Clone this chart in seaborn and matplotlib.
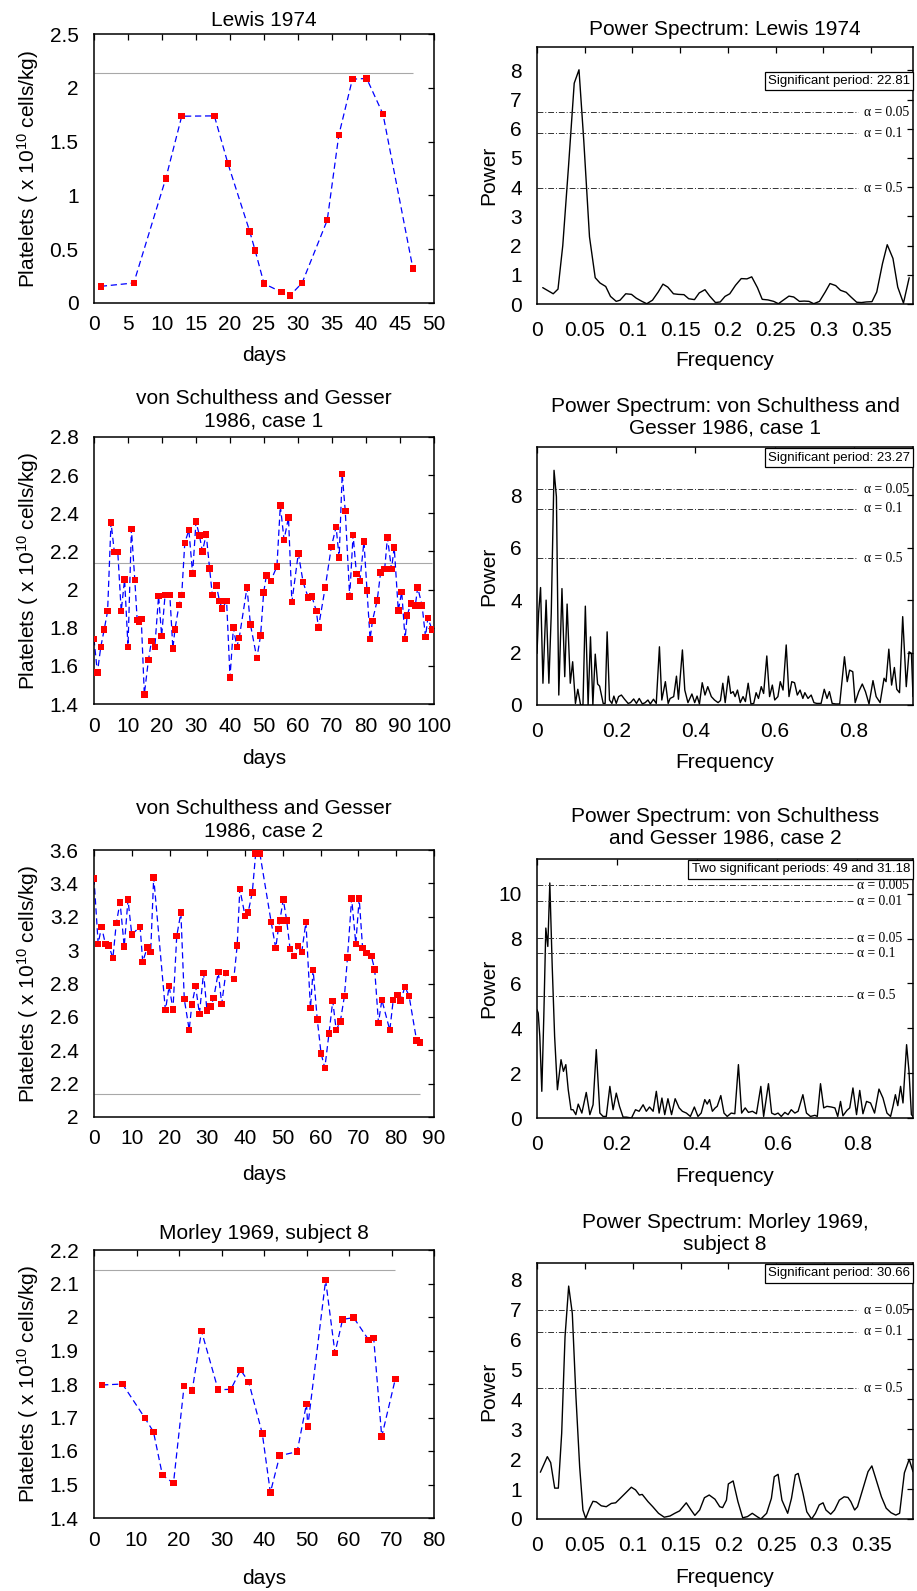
import matplotlib
matplotlib.use('Agg')
import matplotlib.pyplot as plt
import matplotlib.transforms as mtransforms
from matplotlib.ticker import FormatStrFormatter, MultipleLocator
import seaborn as sns

# ---------------- data ----------------
normal_level = 2.14  # x 10^10 cells/kg

# Lewis 1974
lewis_day = [1.0, 5.85, 10.56, 12.9, 17.7, 19.7, 22.9, 23.7, 25.0, 27.6, 28.8, 30.6,
             34.3, 36.0, 38.0, 40.1, 42.5, 46.9]
lewis_plt = [0.155, 0.186, 1.158, 1.736, 1.739, 1.295, 0.665, 0.488, 0.18, 0.10, 0.068, 0.186,
             0.77, 1.56, 2.08, 2.087, 1.755, 0.32]
lewis_freq = [0.006, 0.017, 0.022, 0.027, 0.033, 0.039, 0.044, 0.049, 0.055, 0.061,
              0.066, 0.072, 0.077, 0.083, 0.087, 0.093, 0.099, 0.104, 0.11, 0.115,
              0.121, 0.127, 0.132, 0.137, 0.143, 0.148, 0.154, 0.159, 0.165, 0.17,
              0.176, 0.181, 0.187, 0.192, 0.197, 0.202, 0.208, 0.214, 0.22, 0.225,
              0.231, 0.236, 0.242, 0.248, 0.253, 0.258, 0.264, 0.269, 0.275, 0.28,
              0.285, 0.29, 0.296, 0.302, 0.307, 0.313, 0.318, 0.324, 0.329, 0.335,
              0.34, 0.345, 0.351, 0.356, 0.362, 0.367, 0.373, 0.378, 0.384, 0.39]
lewis_pow = [0.56, 0.35, 0.51, 2.0, 4.7, 7.56, 8.02, 5.6, 2.3, 0.9,
             0.72, 0.6, 0.26, 0.09, 0.13, 0.35, 0.33, 0.2, 0.09, 0.01,
             0.13, 0.41, 0.68, 0.58, 0.35, 0.33, 0.32, 0.18, 0.15, 0.38,
             0.49, 0.27, 0.05, 0.07, 0.26, 0.35, 0.64, 0.87, 0.86, 0.93,
             0.56, 0.16, 0.14, 0.09, 0.01, 0.13, 0.27, 0.24, 0.09, 0.1,
             0.09, 0.01, 0.09, 0.41, 0.7, 0.63, 0.47, 0.40, 0.24, 0.06,
             0.05, 0.07, 0.08, 0.41, 1.38, 2.03, 1.56, 0.58, 0.03, 0.9]
lewis_alpha = [6.56, 5.84, 3.96]
lewis_alpha_lab = ['α = 0.05', 'α = 0.1', 'α = 0.5']
lewis_note = 'Significant period: 22.81'

# von Schulthess and Gesser 1986, case 1
vsg1_day = [0, 1, 2, 3, 4, 5, 6, 7, 8, 9, 10, 11, 12, 12.7, 13.2, 13.9, 14.8, 16, 16.9, 17.9,
            19, 19.9, 20.9, 22.3, 23.2, 23.8, 25, 25.8, 26.7, 27.9, 29, 30, 31, 31.9, 33, 34,
            34.8, 36, 36.9, 37.7, 39, 40, 41, 42, 42.7, 45, 46, 47.9, 49, 49.9, 50.7, 52,
            53.8, 54.8, 55.9, 57.2, 58.2, 60.1, 61.5, 63, 64.1, 65.4, 66, 68, 69.8, 71.2,
            72.1, 73, 73.9, 75.2, 76.2, 77.2, 78.2, 79.4, 80.3, 81.2, 81.9, 83.3, 84.3,
            85.5, 86.3, 87.5, 88.3, 89.5, 90.5, 91.5, 92.1, 93.2, 94.5, 95.2, 96.5, 97.5,
            98.2, 99.4]
vsg1_plt = [1.74, 1.565, 1.70, 1.79, 1.887, 2.352, 2.196, 2.196, 1.887, 2.053,
            1.70, 2.317, 2.051, 1.84, 1.83, 1.846, 1.45, 1.63, 1.73, 1.70,
            1.967, 1.757, 1.972, 1.972, 1.69, 1.79, 1.918, 1.972, 2.245, 2.312,
            2.084, 2.356, 2.284, 2.2, 2.29, 2.11, 1.972, 2.021, 1.94, 1.9,
            1.94, 1.54, 1.8, 1.70, 1.745, 2.011, 1.818, 1.64, 1.76, 1.985,
            2.074, 2.046, 2.121, 2.44, 2.261, 2.378, 1.935, 2.19, 2.039, 1.958,
            1.963, 1.887, 1.80, 2.011, 2.223, 2.329, 2.168, 2.606, 2.412, 1.963,
            2.287, 2.081, 2.046, 2.251, 1.995, 1.74, 1.836, 1.944, 2.09, 2.109,
            2.273, 2.107, 2.221, 1.89, 1.988, 1.74, 1.864, 1.928, 1.916, 2.011,
            1.916, 1.752, 1.852, 1.79]
vsg1_freq = [0, 0.004, 0.009, 0.015, 0.023, 0.03, 0.036, 0.043, 0.049, 0.055,
             0.063, 0.07, 0.076, 0.084, 0.09, 0.097, 0.103, 0.11, 0.116, 0.122,
             0.129, 0.135, 0.141, 0.147, 0.153, 0.158, 0.167, 0.172, 0.177, 0.183,
             0.189, 0.194, 0.2, 0.206, 0.213, 0.221, 0.23, 0.236, 0.244, 0.251,
             0.258, 0.266, 0.273, 0.28, 0.286, 0.294, 0.301, 0.309, 0.315, 0.324,
             0.331, 0.336, 0.345, 0.352, 0.357, 0.367, 0.373, 0.381, 0.391, 0.398,
             0.404, 0.41, 0.417, 0.424, 0.431, 0.44, 0.448, 0.457, 0.463, 0.469,
             0.475, 0.483, 0.489, 0.495, 0.5, 0.506, 0.513, 0.52, 0.526, 0.533,
             0.54, 0.547, 0.553, 0.559, 0.566, 0.572, 0.58, 0.587, 0.594, 0.6,
             0.608, 0.614, 0.621, 0.629, 0.636, 0.643, 0.65, 0.657, 0.664, 0.671,
             0.676, 0.684, 0.692, 0.699, 0.706, 0.717, 0.725, 0.732, 0.738, 0.745,
             0.754, 0.764, 0.776, 0.783, 0.789, 0.797, 0.803, 0.812, 0.821, 0.829,
             0.838, 0.848, 0.856, 0.866, 0.876, 0.881, 0.888, 0.895, 0.902, 0.908,
             0.915, 0.923, 0.932, 0.939, 0.945, 0.949]
vsg1_pow = [1.97, 3.5, 4.48, 0.83, 4.0, 0.83, 3.5, 8.95, 7.94, 0.38,
            4.44, 1.08, 3.85, 0.83, 1.65, 0.06, 0.6, 0.0, 0.0, 3.77,
            0.0, 2.6, 0.0, 1.94, 0.8, 0.72, 0.06, 0.06, 2.79, 0.19,
            0.06, 0.34, 0.06, 0.32, 0.38, 0.22, 0.06, 0.09, 0.23, 0.06,
            0.25, 0.04, 0.09, 0.19, 0.04, 0.22, 0.06, 2.22, 0.19, 0.89,
            0.06, 0.25, 0.32, 1.1, 0.22, 2.1, 0.57, 0.09, 0.42, 0.09,
            0.34, 0.04, 0.85, 0.38, 0.7, 0.32, 0.19, 0.09, 0.17, 0.83,
            0.09, 1.1, 0.44, 0.51, 0.32, 0.57, 0.09, 0.32, 0.13, 0.83,
            0.04, 0.06, 0.47, 0.25, 0.7, 0.44, 1.87, 0.32, 0.76, 0.19,
            0.32, 0.89, 0.57, 2.29, 0.32, 0.89, 0.85, 0.38, 0.57, 0.25,
            0.47, 0.25, 0.38, 0.09, 0.06, 0.06, 0.6, 0.25, 0.51, 0.06,
            0.04, 0.04, 1.84, 0.89, 1.33, 1.27, 0.09, 0.51, 0.8, 0.51,
            0.04, 0.93, 0.32, 0.09, 1.02, 0.89, 2.13, 0.76, 1.43, 0.6,
            0.47, 3.37, 0.7, 2.03, 1.97, 0.32]
vsg1_alpha = [8.22, 7.49, 5.59]
vsg1_alpha_lab = ['α = 0.05', 'α = 0.1', 'α = 0.5']
vsg1_note = 'Significant period: 23.27'

# von Schulthess and Gesser 1986, case 2
vsg2_day = [0, 1.1, 2, 3, 3.9, 5, 5.9, 6.9, 8, 9, 10, 12.2, 12.9, 14.1, 15, 15.8, 18.9, 19.9,
            20.9, 21.9, 23, 23.9, 25.2, 25.9, 26.9, 27.9, 29, 29.9, 30.9, 31.7, 32.9, 33.8,
            34.9, 37, 37.9, 38.6, 40, 40.8, 41.9, 42.8, 43.9, 46.9, 48.1, 48.8, 49.2, 50.1,
            51, 51.9, 52.9, 54, 55, 56.1, 57.3, 58, 59.1, 60.1, 61.1, 62.2, 63.2, 64.1,
            65.2, 66.3, 67.1, 68.2, 69.3, 70.2, 71.1, 72.2, 73.4, 74.3, 75.3, 76.2, 78.3,
            79.2, 80.3, 81.2, 82.3, 83.4, 85.4, 86.3]
vsg2_plt = [3.43, 3.038, 3.14, 3.038, 3.028, 2.952, 3.162, 3.286, 3.022, 3.302,
            3.094, 3.14, 2.93, 3.016, 2.988, 3.436, 2.64, 2.784, 2.644, 3.084,
            3.224, 2.706, 2.522, 2.674, 2.784, 2.618, 2.864, 2.638, 2.662, 2.714,
            2.868, 2.678, 2.864, 2.826, 3.028, 3.366, 3.204, 3.226, 3.346, 3.58,
            3.58, 3.168, 3.012, 3.128, 3.178, 3.304, 3.178, 3.008, 2.966, 3.024,
            2.99, 3.168, 2.652, 2.882, 2.584, 2.382, 2.294, 2.5, 2.696, 2.522,
            2.572, 2.726, 2.956, 3.31, 3.038, 3.31, 3.012, 2.984, 2.966, 2.884,
            2.564, 2.702, 2.52, 2.70, 2.73, 2.698, 2.78, 2.726, 2.458, 2.446]
vsg2_freq = [0, 0.003, 0.007, 0.012, 0.017, 0.022, 0.027, 0.032, 0.038, 0.044,
             0.051, 0.06, 0.066, 0.072, 0.078, 0.085, 0.09, 0.097, 0.103, 0.112,
             0.123, 0.132, 0.14, 0.148, 0.157, 0.165, 0.173, 0.182, 0.19, 0.198,
             0.206, 0.215, 0.223, 0.236, 0.246, 0.255, 0.265, 0.273, 0.281, 0.29,
             0.298, 0.305, 0.312, 0.319, 0.327, 0.336, 0.345, 0.355, 0.363, 0.373,
             0.383, 0.393, 0.402, 0.41, 0.419, 0.425, 0.431, 0.438, 0.445, 0.45,
             0.459, 0.467, 0.475, 0.485, 0.494, 0.503, 0.511, 0.52, 0.528, 0.538,
             0.548, 0.559, 0.566, 0.578, 0.586, 0.594, 0.602, 0.61, 0.619, 0.627,
             0.635, 0.644, 0.652, 0.664, 0.673, 0.683, 0.694, 0.7, 0.708, 0.716,
             0.724, 0.735, 0.744, 0.751, 0.758, 0.764, 0.774, 0.781, 0.789, 0.798,
             0.806, 0.814, 0.823, 0.833, 0.843, 0.854, 0.864, 0.874, 0.883, 0.889,
             0.895, 0.901, 0.908, 0.914, 0.923, 0.929, 0.935, 0.939]
vsg2_pow = [4.83, 4.68, 3.64, 1.19, 4.53, 8.47, 7.65, 10.48, 6.76, 3.64,
            1.26, 2.6, 2.08, 2.38, 1.26, 0.37, 0.37, 0.15, 0.62, 0.22,
            1.14, 0.15, 0.59, 3.05, 0.22, 0.07, 0.07, 1.41, 0.37, 1.11,
            0.52, 0.04, 0.04, 0.0, 0.37, 0.3, 0.59, 0.3, 0.49, 0.3,
            1.19, 0.22, 0.89, 0.15, 0.86, 0.15, 0.86, 0.45, 0.3, 0.22,
            0.07, 0.49, 0.07, 0.22, 0.82, 0.62, 0.82, 0.3, 0.45, 0.52,
            1.0, 0.22, 0.07, 0.22, 0.19, 2.38, 0.22, 0.45, 0.25, 0.3,
            0.19, 1.41, 0.07, 1.53, 0.22, 0.15, 0.22, 0.07, 0.25, 0.15,
            0.37, 0.22, 0.3, 1.04, 0.22, 0.07, 0.12, 0.07, 1.53, 0.45,
            0.52, 0.49, 0.45, 0.07, 0.74, 0.1, 0.34, 0.45, 1.34, 0.15,
            1.23, 0.19, 0.74, 0.67, 0.22, 1.29, 0.89, 0.22, 0.07, 0.52,
            1.04, 0.55, 1.41, 0.67, 3.27, 2.08, 0.15, 0.07]
vsg2_alpha = [10.37, 9.67, 8.02, 7.34, 5.45]
vsg2_alpha_lab = ['α = 0.005', 'α = 0.01', 'α = 0.05', 'α = 0.1', 'α = 0.5']
vsg2_note = 'Two significant periods: 49 and 31.18'

# Morley 1969, subject 8
morley_day = [1.9, 6.7, 12, 14, 16.1, 18.7, 21.2, 23.1, 25.3, 29.2, 32.2, 34.5, 36.4, 39.6,
              41.5, 43.7, 47.8, 50, 50.3, 54.5, 56.7, 58.5, 61.1, 64.6, 65.8, 67.7, 70.9]
morley_plt = [1.797, 1.80, 1.698, 1.657, 1.528, 1.504, 1.794, 1.78, 1.958, 1.783,
              1.784, 1.842, 1.806, 1.652, 1.476, 1.586, 1.598, 1.741, 1.673, 2.11,
              1.893, 1.993, 1.998, 1.932, 1.938, 1.643, 1.815]
morley_freq = [0.0035, 0.0108, 0.0143, 0.0185, 0.0223, 0.0258, 0.0293, 0.0331, 0.0369, 0.0407,
               0.0446, 0.048, 0.0509, 0.055, 0.0585, 0.062, 0.0672, 0.0724, 0.0777, 0.0822,
               0.087, 0.0933, 0.0986, 0.103, 0.107, 0.11, 0.116, 0.121, 0.127, 0.133,
               0.139, 0.144, 0.149, 0.156, 0.161, 0.165, 0.17, 0.175, 0.18, 0.186,
               0.191, 0.194, 0.198, 0.2, 0.205, 0.21, 0.215, 0.22, 0.225, 0.23,
               0.234, 0.24, 0.245, 0.248, 0.252, 0.256, 0.262, 0.266, 0.27, 0.273,
               0.278, 0.282, 0.287, 0.291, 0.295, 0.299, 0.302, 0.307, 0.311, 0.316,
               0.321, 0.325, 0.328, 0.332, 0.335, 0.34, 0.346, 0.35, 0.354, 0.36,
               0.365, 0.37, 0.375, 0.379, 0.384, 0.389, 0.393]
morley_pow = [1.56, 2.08, 1.88, 1.03, 1.03, 2.86, 6.08, 7.77, 6.86, 4.08,
              1.74, 0.3, 0.02, 0.36, 0.59, 0.57, 0.44, 0.41, 0.52, 0.54,
              0.69, 0.89, 1.06, 0.97, 0.8, 0.82, 0.58, 0.41, 0.19, 0.06,
              0.1, 0.19, 0.27, 0.54, 0.3, 0.12, 0.3, 0.71, 0.8, 0.66,
              0.41, 0.38, 0.63, 1.17, 1.27, 0.58, 0.04, 0.08, 0.19, 0.08,
              0.0, 0.19, 0.69, 1.41, 1.49, 0.63, 0.19, 0.69, 1.47, 1.52,
              0.86, 0.24, 0.0, 0.19, 0.47, 0.54, 0.3, 0.16, 0.3, 0.63,
              0.74, 0.72, 0.58, 0.3, 0.41, 0.94, 1.58, 1.77, 1.36, 0.74,
              0.36, 0.21, 0.13, 0.19, 1.54, 1.99, 1.58]
morley_alpha = [6.97, 6.24, 4.36]
morley_alpha_lab = ['α = 0.05', 'α = 0.1', 'α = 0.5']
morley_note = 'Significant period: 30.66'

# ---------------- style ----------------
sns.set_style('white')
plt.rcParams['font.family'] = ['Liberation Sans', 'DejaVu Sans']
plt.rcParams['mathtext.fontset'] = 'custom'
plt.rcParams['mathtext.rm'] = 'Liberation Sans'
plt.rcParams['mathtext.it'] = 'Liberation Sans:italic'
plt.rcParams['font.size'] = 15
plt.rcParams['axes.linewidth'] = 1.1
plt.rcParams['axes.edgecolor'] = 'black'
plt.rcParams['text.color'] = 'black'
plt.rcParams['axes.labelcolor'] = 'black'
plt.rcParams['axes.titlecolor'] = 'black'

W, H = 917, 1591
fig = plt.figure(figsize=(W / 100, H / 100), dpi=100)


def px_axes(x0, y0, x1, y1):
    return fig.add_axes([x0 / W, 1 - y1 / H, (x1 - x0) / W, (y1 - y0) / H])


def style_axes(ax, xpad):
    ax.tick_params(direction='in', top=True, right=True, length=4, width=0.9,
                   labelsize=15, colors='black')
    ax.tick_params(axis='x', pad=xpad)
    ax.tick_params(axis='y', pad=11)
    ax.xaxis.set_major_formatter(FormatStrFormatter('%g'))
    ax.yaxis.set_major_formatter(FormatStrFormatter('%g'))


def platelet_panel(box, days, vals, title, ylim, ystep, xmax, xstep, pad, xlab_y):
    ax = px_axes(*box)
    ax.hlines(normal_level, 0, days[-1], color='#a8a8a8', lw=0.8, zorder=1)
    sns.lineplot(x=days, y=vals, ax=ax, color='blue', lw=0.9, linestyle=(0, (5, 3)),
                 estimator=None, sort=False, zorder=2)
    sns.scatterplot(x=days, y=vals, ax=ax, marker='s', color='red', s=22,
                    edgecolor='none', linewidth=0, zorder=3)
    ax.set_xlim(0, xmax)
    ax.set_ylim(*ylim)
    ax.xaxis.set_major_locator(MultipleLocator(xstep))
    ax.yaxis.set_major_locator(MultipleLocator(ystep))
    style_axes(ax, 9)
    ax.set_title(title, fontsize=15, pad=pad)
    ax.set_xlabel('days', fontsize=15)
    ax.set_ylabel('Platelets ( x 10$^{10}$ cells/kg)', fontsize=15)
    ax.xaxis.set_label_coords(0.5, xlab_y)
    ax.yaxis.set_label_coords(-0.155, 0.5)
    return ax


def spectrum_panel(box, freq, power, levels, labels, note, note_top, title, xmax, xstep,
                   ymax, ystep, line_end, lab_x, pad, xlab_y):
    ax = px_axes(*box)
    sns.lineplot(x=freq, y=power, ax=ax, color='black', lw=1.0, estimator=None, sort=False)
    trans = mtransforms.blended_transform_factory(ax.transAxes, ax.transData)
    for lvl, lab in zip(levels, labels):
        ax.axhline(lvl, xmin=0, xmax=line_end, color='#333333', lw=0.7,
                   linestyle=(0, (6, 2, 1, 2)))
        ax.text(lab_x, lvl, lab, transform=trans, ha='left', va='center',
                family=['Liberation Serif', 'DejaVu Serif'], fontsize=9.8)
    ax.text(0.992, note_top, note, transform=ax.transAxes, ha='right', va='top', fontsize=9.5,
            bbox=dict(boxstyle='square,pad=0.25', fc='white', ec='black', lw=0.9))
    ax.set_xlim(0, xmax)
    ax.set_ylim(0, ymax)
    ax.xaxis.set_major_locator(MultipleLocator(xstep))
    ax.yaxis.set_major_locator(MultipleLocator(ystep))
    style_axes(ax, 12)
    ax.set_title(title, fontsize=15, pad=pad)
    ax.set_xlabel('Frequency', fontsize=15)
    ax.set_ylabel('Power', fontsize=15)
    ax.xaxis.set_label_coords(0.5, xlab_y)
    ax.yaxis.set_label_coords(-0.104, 0.5)
    return ax


platelet_panel((94, 34, 434, 303), lewis_day, lewis_plt, 'Lewis 1974', (0, 2.5), 0.5, 50, 5,
               5.6, -0.16)
spectrum_panel((537, 47, 913, 304), lewis_freq, lewis_pow, lewis_alpha, lewis_alpha_lab,
               lewis_note, 0.891, 'Power Spectrum: Lewis 1974', 0.394, 0.05, 8.8, 1,
               0.855, 0.87, 8.4, -0.183)

platelet_panel((94, 437, 434, 704), vsg1_day, vsg1_plt, 'von Schulthess and Gesser\n1986, case 1',
               (1.4, 2.8), 0.2, 100, 10, 7.8, -0.17)
spectrum_panel((537, 447, 913, 705), vsg1_freq, vsg1_pow, vsg1_alpha, vsg1_alpha_lab,
               vsg1_note, 0.982, 'Power Spectrum: von Schulthess and\nGesser 1986, case 1',
               0.949, 0.2, 9.84, 2, 0.85, 0.87, 9.6, -0.185)

platelet_panel((94, 850, 434, 1117), vsg2_day, vsg2_plt, 'von Schulthess and Gesser\n1986, case 2',
               (2, 3.6), 0.2, 90, 10, 10, -0.178)
spectrum_panel((537, 859, 913, 1118), vsg2_freq, vsg2_pow, vsg2_alpha, vsg2_alpha_lab,
               vsg2_note, 0.983, 'Power Spectrum: von Schulthess\nand Gesser 1986, case 2',
               0.939, 0.2, 11.55, 2, 0.84, 0.851, 11, -0.19)

platelet_panel((94, 1250, 434, 1518), morley_day, morley_plt, 'Morley 1969, subject 8',
               (1.4, 2.2), 0.1, 80, 10, 7.6, -0.19)
spectrum_panel((537, 1263, 913, 1519), morley_freq, morley_pow, morley_alpha, morley_alpha_lab,
               morley_note, 0.983, 'Power Spectrum: Morley 1969,\nsubject 8', 0.393, 0.05, 8.54, 1,
               0.854, 0.871, 9.3, -0.19)

fig.savefig('out.png', dpi=100)
